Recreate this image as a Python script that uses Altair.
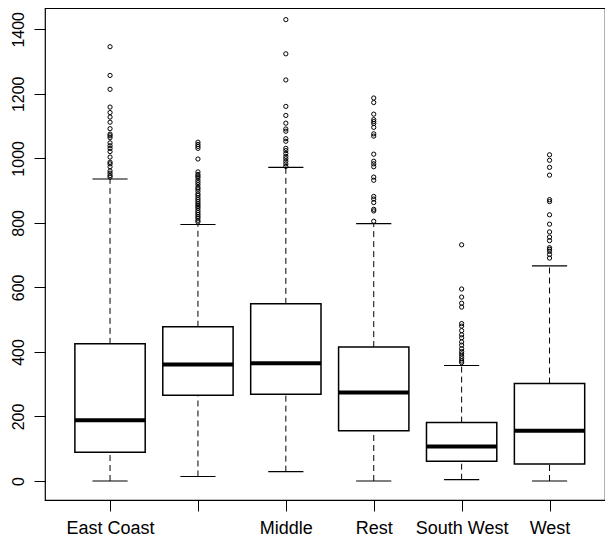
import json
import altair as alt
import pandas as pd

# ---- data ----
categories = ["East Coast", "Mid Atlantic", "Middle", "Rest", "South West", "West"]
tick_labels = ["East Coast", "", "Middle", "Rest", "South West", "West"]

whisker_low = [0, 14, 29, 0, 4, 0]
q1 = [89, 266, 269, 156, 61, 53]
median = [188, 361, 365, 274, 107, 156]
q3 = [425, 478, 549, 415, 181, 302]
whisker_high = [936, 795, 972, 798, 358, 667]

out_east_coast = [1346, 1257, 1214, 1159, 1142, 1128, 1112, 1092, 1075, 1070, 1064,
                  1048, 1039, 1031, 1021, 1004, 988, 983, 974, 961, 954, 947, 942]
out_mid_atlantic = [1050, 1043, 1037, 1031, 998, 958, 950, 945, 940, 932, 925, 918,
                    910, 905, 898, 890, 885, 878, 872, 866, 860, 855, 850, 845, 838,
                    832, 826, 820, 815, 808, 803]
out_middle = [1430, 1324, 1243, 1161, 1133, 1109, 1091, 1084, 1061, 1053, 1031,
              1024, 1015, 1006, 999, 991, 983, 975]
out_rest = [1187, 1173, 1137, 1120, 1114, 1108, 1096, 1076, 1069, 1013, 991, 983,
            974, 942, 932, 882, 874, 863, 842, 837, 805]
out_south_west = [732, 595, 570, 551, 539, 488, 480, 466, 453, 444, 431, 421, 410,
                  401, 394, 386, 379, 372, 367]
out_west = [1011, 994, 972, 948, 872, 866, 825, 796, 772, 756, 745, 723, 718, 712,
            702, 691]

y_ticks = [0, 200, 400, 600, 800, 1000, 1200, 1400]

outlier_lists = [out_east_coast, out_mid_atlantic, out_middle, out_rest,
                 out_south_west, out_west]

# ---- tables ----
box_df = pd.DataFrame({
    "category": categories,
    "idx": list(range(1, len(categories) + 1)),
    "lo": whisker_low, "q1": q1, "median": median, "q3": q3, "hi": whisker_high,
})
out_df = pd.DataFrame(
    [{"category": c, "idx": i + 1, "value": v}
     for i, (c, vals) in enumerate(zip(categories, outlier_lists)) for v in vals]
)

FONT = "Liberation Sans"
xscale = alt.Scale(domain=[0.26, 6.631], nice=False, zero=False)
yscale = alt.Scale(domain=[-58.9, 1466], nice=False, zero=False)

label_expr = json.dumps(tick_labels) + "[datum.value - 1]"

x_axis = alt.Axis(values=list(range(1, len(categories) + 1)), labelExpr=label_expr,
                  title=None, grid=False, domain=False, ticks=True, tickSize=11,
                  tickColor="black", tickWidth=1, labelFont=FONT, labelFontSize=18,
                  labelColor="black", labelPadding=8, labelBaseline="top",
                  labelAlign="center", labelAngle=0)
y_axis = alt.Axis(values=y_ticks, format="d", title=None, grid=False, domain=False,
                  ticks=True, tickSize=11, tickColor="black", tickWidth=1,
                  labelFont=FONT, labelFontSize=16, labelColor="black",
                  labelAngle=270, labelAlign="center", labelBaseline="bottom",
                  labelPadding=8)

base = alt.Chart(box_df).transform_calculate(
    x_lo="datum.idx - 0.4", x_hi="datum.idx + 0.4",
    c_lo="datum.idx - 0.2", c_hi="datum.idx + 0.2",
)

whisk_low = base.mark_rule(color="black", strokeWidth=1, strokeDash=[6, 4]).encode(
    x=alt.X("idx:Q", scale=xscale, axis=x_axis),
    y=alt.Y("lo:Q", scale=yscale, axis=y_axis),
    y2="q1:Q",
)
whisk_high = base.mark_rule(color="black", strokeWidth=1, strokeDash=[6, 4]).encode(
    x=alt.X("idx:Q", scale=xscale), y=alt.Y("q3:Q", scale=yscale), y2="hi:Q",
)
box = base.mark_rect(fill="white", stroke="black", strokeWidth=1.5).encode(
    x=alt.X("x_lo:Q", scale=xscale), x2="x_hi:Q",
    y=alt.Y("q1:Q", scale=yscale), y2="q3:Q",
)
med = base.mark_rule(color="black", strokeWidth=4).encode(
    x=alt.X("x_lo:Q", scale=xscale), x2="x_hi:Q", y=alt.Y("median:Q", scale=yscale),
)
cap_low = base.mark_rule(color="black", strokeWidth=1.2).encode(
    x=alt.X("c_lo:Q", scale=xscale), x2="c_hi:Q", y=alt.Y("lo:Q", scale=yscale),
)
cap_high = base.mark_rule(color="black", strokeWidth=1.2).encode(
    x=alt.X("c_lo:Q", scale=xscale), x2="c_hi:Q", y=alt.Y("hi:Q", scale=yscale),
)
points = alt.Chart(out_df).mark_point(shape="circle", filled=False, color="black",
                                       size=18, strokeWidth=1, opacity=1).encode(
    x=alt.X("idx:Q", scale=xscale), y=alt.Y("value:Q", scale=yscale),
)

chart = alt.layer(whisk_low, whisk_high, box, med, cap_low, cap_high, points).properties(
    width=560, height=492,
    autosize=alt.AutoSizeParams(type="none"),
    padding={"left": 37, "top": 0, "right": 0, "bottom": 41},
    background="white",
).configure_view(stroke="black", strokeWidth=1.2)

chart.save("out.html", embed_options={"renderer": "svg", "actions": False})
